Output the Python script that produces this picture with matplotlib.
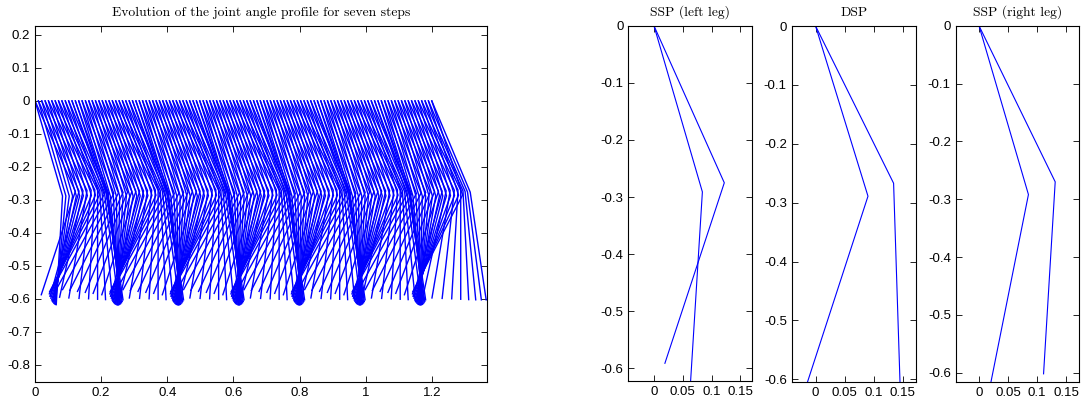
import numpy as np
import matplotlib.pyplot as plt

plt.rcParams["axes.unicode_minus"] = False

# leg segment lengths
THIGH = 0.30
SHANK = 0.33

# joint angle profile for one gait cycle of one leg (deg from vertical, + = forward)
thigh_stance = [22.8, 20.3, 18.5, 17.3, 16.5, 16.3, 16.1, 16.1, 16.1,
                16.1, 16.1, 16.1, 16.3, 16.3, 16.5, 16.9, 17.3, 17.7]
shank_stance = [8.4, 8.3, 7.7, 6.5, 5.0, 3.0, 1.0, -1.1, -3.3,
                -5.5, -7.7, -9.9, -12.3, -14.5, -16.9, -19.6, -22.3, -25.0]
thigh_swing = [18.1, 18.9, 19.7, 20.7, 21.5, 22.3, 23.0, 23.6, 24.0,
               24.2, 24.6, 25.0, 25.5, 25.7, 25.3, 24.6, 23.8, 23.2]
shank_swing = [-27.2, -28.8, -28.8, -28.0, -26.5, -24.7, -22.8, -20.8, -18.2,
               -15.3, -12.4, -9.6, -6.4, -3.3, 0.0, 3.0, 5.6, 7.3]

# hip travel over the seven steps
hip_start, hip_end = 0.0, 1.2
n_frames = 119
left_start_phase = 8     # left leg mid stance at first frame
right_start_phase = 26   # right leg mid swing

# snapshots of the three phases (knee / foot relative to hip)
pose_titles = ["SSP (left leg)", "DSP", "SSP (right leg)"]
pose_knee_x = [[0.084, 0.122], [0.134, 0.090], [0.085, 0.131]]
pose_knee_y = [[-0.291, -0.275], [-0.267, -0.289], [-0.292, -0.270]]
pose_foot_x = [[0.0634, 0.019], [0.1455, -0.019], [0.0188, 0.111]]
pose_foot_y = [[-0.625, -0.591], [-0.620, -0.620], [-0.625, -0.602]]
pose_xlim = [(-0.0445, 0.1705), (-0.041, 0.172), (-0.040, 0.172)]
pose_ylim = [(-0.622, 0.0), (-0.604, 0.0), (-0.6156, 0.0)]

BLUE = (0.0, 0.0, 1.0)
TICK_FONT = dict(family="Liberation Sans", size=9.5)
TITLE_FONT = dict(family="cmr10", size=9.8)


def style_axes(ax):
    ax.tick_params(direction="in", top=True, right=True, length=4, width=0.6,
                   pad=3.5, labelsize=TICK_FONT["size"], colors="black")
    for lab in ax.get_xticklabels() + ax.get_yticklabels():
        lab.set_family(TICK_FONT["family"])
    for s in ax.spines.values():
        s.set_linewidth(0.8)
        s.set_color("black")


thigh_cycle = np.radians(thigh_stance + thigh_swing)
shank_cycle = np.radians(shank_stance + shank_swing)
n_phase = len(thigh_cycle)
hip_x = np.linspace(hip_start, hip_end, n_frames)

fig = plt.figure(figsize=(10.81, 4.04), dpi=100)

ax = fig.add_axes([0.0324, 0.0537, 0.4178, 0.8827])
for n, hx in enumerate(hip_x):
    for start in (left_start_phase, right_start_phase):
        k = (start + n) % n_phase
        kx = hx + THIGH * np.sin(thigh_cycle[k])
        ky = -THIGH * np.cos(thigh_cycle[k])
        fx = kx + SHANK * np.sin(shank_cycle[k])
        fy = ky - SHANK * np.cos(shank_cycle[k])
        ax.plot([hx, kx, fx], [0.0, ky, fy], color=BLUE, lw=1.0)
ax.set_xlim(0, 1.366)
ax.set_ylim(-0.853, 0.228)
ax.set_xticks([0, 0.2, 0.4, 0.6, 0.8, 1.0, 1.2])
ax.set_xticklabels(["0", "0.2", "0.4", "0.6", "0.8", "1", "1.2"])
yt = [0.2, 0.1, 0, -0.1, -0.2, -0.3, -0.4, -0.5, -0.6, -0.7, -0.8]
ax.set_yticks(yt)
ax.set_yticklabels(["0.2", "0.1", "0", "-0.1", "-0.2", "-0.3", "-0.4",
                    "-0.5", "-0.6", "-0.7", "-0.8"])
ax.set_title("Evolution of the joint angle profile for seven steps",
             pad=7, **TITLE_FONT)
style_axes(ax)

panel_rects = [[0.5812, 0.0569, 0.1147, 0.8795],
               [0.7324, 0.0552, 0.1147, 0.8804],
               [0.8841, 0.0552, 0.1141, 0.8812]]
for i, rect in enumerate(panel_rects):
    pax = fig.add_axes(rect)
    for j in range(2):
        pax.plot([0.0, pose_knee_x[i][j], pose_foot_x[i][j]],
                 [0.0, pose_knee_y[i][j], pose_foot_y[i][j]],
                 color=BLUE, lw=0.8)
    pax.set_xlim(*pose_xlim[i])
    pax.set_ylim(*pose_ylim[i])
    pax.set_xticks([0, 0.05, 0.1, 0.15])
    pax.set_xticklabels(["0", "0.05", "0.1", "0.15"])
    pax.set_yticks([0, -0.1, -0.2, -0.3, -0.4, -0.5, -0.6])
    pax.set_yticklabels(["0", "-0.1", "-0.2", "-0.3", "-0.4", "-0.5", "-0.6"])
    pax.set_title(pose_titles[i], pad=7, **TITLE_FONT)
    style_axes(pax)

fig.savefig("out.png", dpi=100)
